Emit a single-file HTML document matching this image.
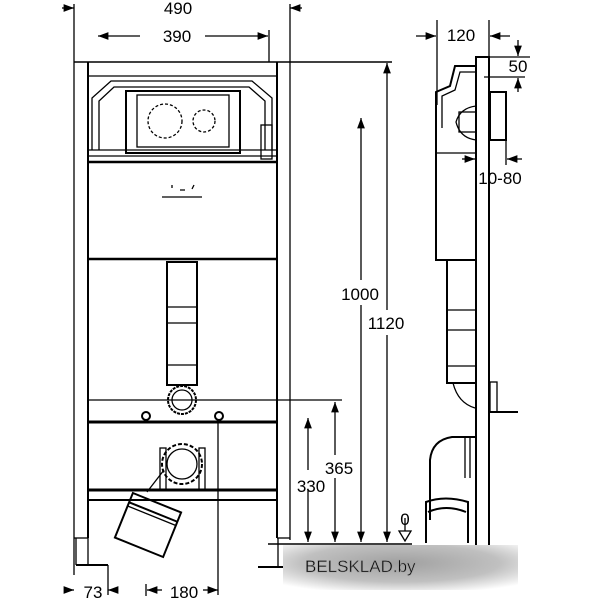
<!DOCTYPE html>
<html><head><meta charset="utf-8"><style>
html,body{margin:0;padding:0;background:#fff;}
svg{display:block;}
text{font-family:"Liberation Sans",sans-serif;font-size:17px;fill:#000;}
</style></head><body>
<svg width="600" height="600" viewBox="0 0 600 600" xmlns="http://www.w3.org/2000/svg">
<defs>
<marker id="a" markerWidth="8" markerHeight="6" refX="8" refY="3" orient="auto"><path d="M0,0 L8,3 L0,6z" fill="#000"/></marker>
<radialGradient id="wm" cx="0.5" cy="0.4" r="0.7"><stop offset="0" stop-color="#a0a0a0"/><stop offset="0.6" stop-color="#c0c0c0"/><stop offset="1" stop-color="#fff"/></radialGradient>
</defs>
<g stroke="#000" fill="none" stroke-width="1.3">
<line x1="74" y1="4" x2="74" y2="575"/>
<line x1="290" y1="4" x2="290" y2="540"/>
<line x1="62" y1="8" x2="74" y2="8" marker-end="url(#a)"/>
<line x1="302" y1="8" x2="290" y2="8" marker-end="url(#a)"/>
<line x1="140" y1="36" x2="98" y2="36" marker-end="url(#a)"/>
<line x1="205" y1="36" x2="268" y2="36" marker-end="url(#a)"/>
<line x1="269" y1="30" x2="269" y2="62"/>
<line x1="74" y1="62" x2="392" y2="62" stroke-width="1.6"/>
<line x1="88" y1="62" x2="88" y2="538" stroke-width="2"/>
<line x1="277" y1="62" x2="277" y2="538" stroke-width="2"/>
<line x1="74" y1="538" x2="88" y2="538"/>
<line x1="277" y1="538" x2="290" y2="538"/>
<line x1="76" y1="538" x2="76" y2="565"/><line x1="88" y1="538" x2="88" y2="565"/>
<line x1="76" y1="565" x2="108" y2="565" stroke-width="2"/>
<line x1="108" y1="565" x2="108" y2="595"/>
<line x1="278" y1="538" x2="278" y2="566"/>
<line x1="258" y1="567" x2="285" y2="567" stroke-width="2"/>
<line x1="88" y1="76" x2="277" y2="76"/>
<path d="M92,150 L92,98 L111,81 L252,81 L272,98 L272,150"/>
<path d="M99,150 L99,101 L114,87 L249,87 L265,101 L265,150"/>
<rect x="126" y="91" width="114" height="62" stroke-width="2"/>
<rect x="137" y="95" width="92" height="52"/>
<circle cx="165" cy="121" r="17" stroke-dasharray="3,2"/>
<circle cx="204" cy="121" r="11" stroke-dasharray="3,2"/>
<rect x="261" y="125" width="11" height="34"/>
<line x1="88" y1="150" x2="277" y2="150"/>
<line x1="88" y1="156" x2="277" y2="156"/>
<line x1="88" y1="162" x2="277" y2="162" stroke-width="2.5"/>
<line x1="162" y1="197" x2="202" y2="197"/>
<path d="M172,185 l0,3 M180,190 l5,0 M194,185 l-2,4" />
<line x1="88" y1="259" x2="277" y2="259" stroke-width="2.5"/>
<rect x="167" y="262" width="30" height="123" stroke-width="2"/>
<line x1="167" y1="307" x2="197" y2="307"/>
<line x1="167" y1="323" x2="197" y2="323"/>
<line x1="167" y1="365" x2="197" y2="365"/>
<circle cx="182" cy="400" r="14" stroke-width="2" stroke-dasharray="3,1"/>
<circle cx="182" cy="400" r="10"/>
<line x1="88" y1="400" x2="342" y2="400"/>
<line x1="88" y1="422" x2="277" y2="422" stroke-width="3"/>
<circle cx="146" cy="416" r="4" stroke-width="2"/>
<circle cx="219" cy="416" r="4" stroke-width="2"/>
<line x1="218" y1="420" x2="218" y2="595"/>
<circle cx="182" cy="464" r="20" stroke-width="2" stroke-dasharray="4,2"/>
<circle cx="182" cy="464" r="15"/>
<rect x="160" y="448" width="6" height="42"/><rect x="199" y="448" width="6" height="42"/>
<line x1="88" y1="490" x2="277" y2="490" stroke-width="3"/>
<line x1="88" y1="500" x2="277" y2="500" stroke-width="2"/>
<line x1="164" y1="470" x2="147" y2="492"/>
<g transform="translate(148,525) rotate(22)">
<rect x="-26" y="-24" width="52" height="48" stroke-width="2"/>
<line x1="-26" y1="-14" x2="26" y2="-14" stroke-width="2"/>
<line x1="-26" y1="-10" x2="26" y2="-10"/>
</g>
<line x1="308" y1="470" x2="308" y2="418" marker-end="url(#a)"/>
<line x1="308" y1="490" x2="308" y2="542" marker-end="url(#a)"/>
<line x1="335" y1="455" x2="335" y2="402" marker-end="url(#a)"/>
<line x1="335" y1="478" x2="335" y2="542" marker-end="url(#a)"/>
<line x1="361" y1="280" x2="361" y2="118" marker-end="url(#a)"/>
<line x1="361" y1="305" x2="361" y2="542" marker-end="url(#a)"/>
<line x1="387" y1="310" x2="387" y2="63" marker-end="url(#a)"/>
<line x1="387" y1="335" x2="387" y2="542" marker-end="url(#a)"/>
<line x1="268" y1="544" x2="412" y2="544" stroke-width="1.6"/>
<path d="M399,531 L411,531 L405,541z"/>
<line x1="405" y1="518" x2="405" y2="531"/>
<line x1="64" y1="590" x2="74" y2="590" marker-end="url(#a)"/>
<line x1="118" y1="590" x2="108" y2="590" marker-end="url(#a)"/>
<line x1="162" y1="590" x2="147" y2="590" marker-end="url(#a)"/>
<line x1="203" y1="590" x2="218" y2="590" marker-end="url(#a)"/>
<line x1="146" y1="584" x2="146" y2="596"/>
<!-- side view -->
<line x1="437" y1="20" x2="437" y2="105"/>
<line x1="489" y1="20" x2="489" y2="57"/>
<line x1="416" y1="36" x2="436" y2="36" marker-end="url(#a)"/>
<line x1="510" y1="36" x2="490" y2="36" marker-end="url(#a)"/>
<rect x="476" y="57" width="13" height="523" stroke-width="2"/>
<line x1="489" y1="57" x2="530" y2="57"/>
<line x1="484" y1="77" x2="525" y2="77"/>
<line x1="518" y1="40" x2="518" y2="56" marker-end="url(#a)"/>
<line x1="518" y1="92" x2="518" y2="78" marker-end="url(#a)"/>
<rect x="490" y="92" width="16" height="48" stroke-width="2"/>
<line x1="506" y1="140" x2="506" y2="165"/>
<line x1="462" y1="159" x2="475" y2="159" marker-end="url(#a)"/>
<line x1="522" y1="159" x2="507" y2="159" marker-end="url(#a)"/>
<path d="M436,132 L436,92 L450,86 L455,66 L476,66" stroke-width="2"/>
<path d="M442,128 L442,96 L455,90 L460,72 L476,72"/>
<path d="M476,106 Q460,108 456,122 Q460,138 476,140"/>
<rect x="459" y="112" width="17" height="20"/>
<path d="M436,132 L436,260 L476,260" stroke-width="2"/>
<line x1="436" y1="153" x2="476" y2="153"/>
<path d="M447,260 L447,383 L476,383" stroke-width="2"/>
<line x1="447" y1="310" x2="476" y2="310"/><line x1="447" y1="330" x2="476" y2="330"/><line x1="447" y1="366" x2="476" y2="366"/>
<path d="M453,383 Q458,403 475,408"/>
<rect x="490" y="382" width="7" height="30"/>
<line x1="490" y1="412" x2="518" y2="412" stroke-width="2"/>
<path d="M430,520 L430,460 Q432,440 452,437 L475,437" stroke-width="2"/>
<path d="M465,437 L465,478 M470,437 L470,478"/>
<path d="M426,543 L426,502 Q445,495 468,502 L468,543" stroke-width="2"/>
<path d="M428,512 Q446,504 466,512" stroke-width="2"/>
</g>
<g>
<text x="178" y="14" text-anchor="middle">490</text>
<text x="177" y="42" text-anchor="middle">390</text>
<text x="461" y="41" text-anchor="middle" font-size="15">120</text>
<text x="518" y="72" text-anchor="middle" font-size="15">50</text>
<text x="500" y="184" text-anchor="middle" font-size="15">10-80</text>
<text x="360" y="300" text-anchor="middle">1000</text>
<text x="386" y="329" text-anchor="middle">1120</text>
<text x="339" y="474" text-anchor="middle">365</text>
<text x="311" y="492" text-anchor="middle">330</text>
<text x="93" y="598" text-anchor="middle">73</text>
<text x="184" y="598" text-anchor="middle">180</text>
<text x="405" y="525" text-anchor="middle" font-size="12">0</text>
</g>
<rect x="283" y="545" width="235" height="45" fill="url(#wm)"/>
<text x="305" y="572" font-size="22" fill="#fff" stroke="#999" stroke-width="0.6">BELSKLAD.by</text>
</svg>
</body></html>
